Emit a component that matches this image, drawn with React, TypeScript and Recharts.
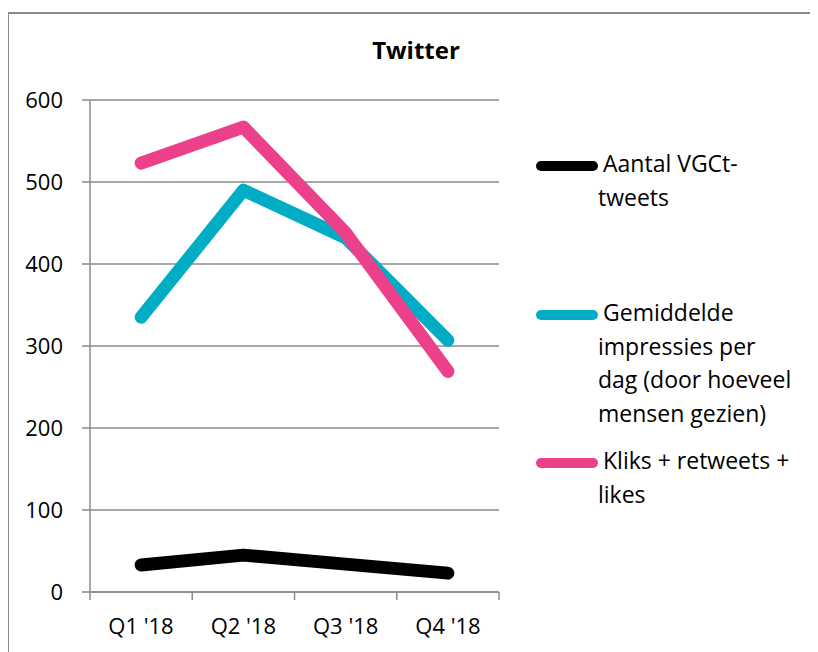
import React from 'react';
import { LineChart, Line, XAxis, YAxis, CartesianGrid } from 'recharts';

const quarters = ["Q1 '18", "Q2 '18", "Q3 '18", "Q4 '18"];
const tweets = [33, 45, 34, 23];
const impressions = [335, 490, 432, 307];
const engagement = [523, 567, 438, 269];
const yTicks = [0, 100, 200, 300, 400, 500, 600];

const seriesLines = [
  ['Aantal VGCt-', 'tweets'],
  ['Gemiddelde', 'impressies per', 'dag (door hoeveel', 'mensen gezien)'],
  ['Kliks + retweets +', 'likes'],
];
const seriesKeys = ['tweets', 'impressions', 'engagement'];
const seriesColors = ['#000000', '#00adc5', '#ec408b'];

const FONT = '"Open Sans", "Noto Sans", sans-serif';
const GRID = '#8a8a8a';
// vertical centre of each legend symbol, inside the chart box
const legendCenters = [158, 307, 455];

// slot = centre of each quarter's band on a 0..n axis, so the tick marks fall between quarters
const data = quarters.map((quarter, i) => ({
  quarter,
  slot: i + 0.5,
  tweets: tweets[i],
  impressions: impressions[i],
  engagement: engagement[i],
}));
const bandTicks = [0, ...quarters.map((_, i) => i + 1)];

const LegendBlock: React.FC = () => (
  <>
    {seriesLines.map((lines, i) => (
      <div key={seriesKeys[i]} style={{ position: 'absolute', left: 528, top: legendCenters[i] - 19 }}>
        <svg width={62} height={12} style={{ position: 'absolute', left: 0, top: 13 }}>
          <line x1={5} y1={6} x2={57} y2={6} stroke={seriesColors[i]} strokeWidth={10} strokeLinecap="round" />
        </svg>
        <div style={{ position: 'absolute', left: 62, top: 0, width: 230, fontFamily: FONT, fontSize: 23, lineHeight: '33.5px', color: '#000', whiteSpace: 'nowrap' }}>
          {lines.map((l, j) => (
            <div key={j} style={{ paddingLeft: j === 0 ? 5 : 0 }}>{l}</div>
          ))}
        </div>
      </div>
    ))}
  </>
);

export default function App() {
  return (
    <div style={{ position: 'relative', width: 810, height: 644, overflow: 'hidden', background: '#fff' }}>
      <div style={{ position: 'absolute', left: -1, top: 4, width: 900, height: 700, borderTop: `2px solid ${GRID}`, borderLeft: `2px solid ${GRID}` }} />
      <div style={{ position: 'absolute', left: 308, width: 200, top: 30, textAlign: 'center', fontFamily: FONT, fontWeight: 700, fontSize: 24, lineHeight: '24px' }}>
        Twitter
      </div>
      <LineChart width={810} height={644} data={data} margin={{ top: 92, right: 319, bottom: 30, left: 22 }} style={{ position: 'absolute', left: 0, top: 0 }}>
        <CartesianGrid vertical={false} stroke={GRID} strokeWidth={1.5} xAxisId="bounds" />
        <XAxis xAxisId="bounds" dataKey="slot" type="number" domain={[0, quarters.length]} ticks={bandTicks} allowDataOverflow tickFormatter={() => ''} tickSize={8} height={1} stroke={GRID} strokeWidth={1.5} />
        <XAxis xAxisId="cat" dataKey="quarter" padding={{ left: 51, right: 51 }} axisLine={false} tickLine={false} tickSize={8} tickMargin={17} height={29} interval={0} tick={{ fontSize: 22, fill: '#000', fontFamily: FONT }} />
        <YAxis domain={[0, 600]} ticks={yTicks} width={60} tickSize={8} tickMargin={19} stroke={GRID} strokeWidth={1.5} tick={{ fontSize: 22, fill: '#000', fontFamily: FONT }} />
        {seriesKeys.map((key, i) => (
          <Line
            key={key}
            xAxisId="bounds"
            type="linear"
            dataKey={key}
            name={seriesLines[i].join(' ')}
            stroke={seriesColors[i]}
            strokeWidth={13}
            strokeLinecap="round"
            strokeLinejoin="round"
            dot={false}
            activeDot={false}
            isAnimationActive={false}
          />
        ))}
      </LineChart>
      <LegendBlock />
    </div>
  );
}
